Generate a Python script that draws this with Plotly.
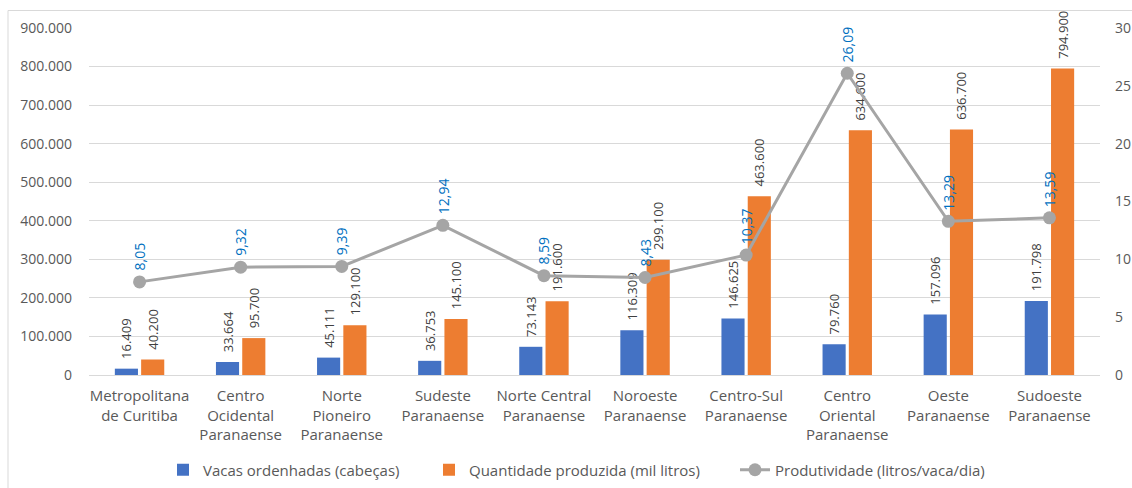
import plotly.graph_objects as go

categories = ["Metropolitana<br>de Curitiba", "Centro<br>Ocidental<br>Paranaense", "Norte<br>Pioneiro<br>Paranaense",
              "Sudeste<br>Paranaense", "Norte Central<br>Paranaense", "Noroeste<br>Paranaense",
              "Centro-Sul<br>Paranaense", "Centro<br>Oriental<br>Paranaense", "Oeste<br>Paranaense",
              "Sudoeste<br>Paranaense"]
vacas = [16409, 33664, 45111, 36753, 73143, 116309, 146625, 79760, 157096, 191798]
quantidade = [40200, 95700, 129100, 145100, 191600, 299100, 463600, 634600, 636700, 794900]
produtividade = [8.05, 9.32, 9.39, 12.94, 8.59, 8.43, 10.37, 26.09, 13.29, 13.59]

left_ticks = [0, 100000, 200000, 300000, 400000, 500000, 600000, 700000, 800000, 900000]
right_ticks = [0, 5, 10, 15, 20, 25, 30]

FONT = "Open Sans"
GRAY_TXT = "#595959"

# plot area in pixels
PL, PR, PT, PB = 89, 1100, 28, 375
PW, PH = PR - PL, PB - PT


def px_x(p):
    return (p - PL) / PW


def px_y(p):
    return (PB - p) / PH


fig = go.Figure()
fig.add_trace(go.Bar(
    x=categories, y=vacas, name="Vacas ordenhadas (cabeças)",
    marker=dict(color="#4472C4", line=dict(width=0)),
    texttemplate="\u00a0\u00a0%{y:,d}", textposition="outside", textangle=-90,
    textfont=dict(family=FONT, size=13, color="#404040"),
    cliponaxis=False, constraintext="none", legend="legend", showlegend=True,
))
fig.add_trace(go.Bar(
    x=categories, y=quantidade, name="Quantidade produzida (mil litros)",
    marker=dict(color="#ED7D31", line=dict(width=0)),
    texttemplate="\u00a0\u00a0%{y:,d}", textposition="outside", textangle=-90,
    textfont=dict(family=FONT, size=13, color="#404040"),
    cliponaxis=False, constraintext="none", legend="legend2", showlegend=True,
))
fig.add_trace(go.Scatter(
    x=categories, y=produtividade, name="Produtividade (litros/vaca/dia)",
    yaxis="y2", mode="lines+markers",
    line=dict(color="#A5A5A5", width=3),
    marker=dict(color="#A5A5A5", size=13),
    cliponaxis=False, legend="legend3", showlegend=True,
))

annotations = []
for c, v in zip(categories, produtividade):
    annotations.append(dict(
        x=c, y=v, xref="x", yref="y2", text=f"{v:.2f}".replace(".", ","),
        textangle=-90, showarrow=False, xanchor="center", yanchor="bottom",
        yshift=9, font=dict(family=FONT, size=14, color="#0070C0"),
    ))

legend_style = dict(orientation="h", xanchor="left", yanchor="middle", y=px_y(470),
                    font=dict(family=FONT, size=15, color=GRAY_TXT), bgcolor="rgba(0,0,0,0)")

fig.update_layout(
    width=1132, height=488,
    showlegend=True,
    margin=dict(l=PL, r=1132 - PR, t=PT, b=488 - PB, autoexpand=False),
    paper_bgcolor="white", plot_bgcolor="white",
    separators=",.",
    barmode="group", bargap=0.48, bargroupgap=0.12,
    font=dict(family=FONT, size=14, color=GRAY_TXT),
    xaxis=dict(range=[-0.5, len(categories) - 0.5], autorange=False,
               showgrid=False, showline=False, ticks="", ticklabelstandoff=10,
               tickfont=dict(family=FONT, size=15, color=GRAY_TXT)),
    yaxis=dict(range=[0, 900000], tickvals=left_ticks, tickformat=",d",
               showgrid=True, gridcolor="#D9D9D9", gridwidth=1,
               zeroline=True, zerolinecolor="#D9D9D9", zerolinewidth=1,
               showline=False, ticks="", ticklabelstandoff=16,
               tickfont=dict(family=FONT, size=14, color=GRAY_TXT)),
    yaxis2=dict(range=[0, 30], tickvals=right_ticks, overlaying="y", side="right",
                showgrid=False, zeroline=False, showline=False, ticks="",
                ticklabelstandoff=14,
                tickfont=dict(family=FONT, size=14, color=GRAY_TXT)),
    legend=dict(legend_style, x=px_x(205 - 42)),
    legend2=dict(legend_style, x=px_x(471 - 42)),
    legend3=dict(legend_style, x=px_x(773 - 38)),
    annotations=annotations,
    shapes=[dict(type="rect", xref="paper", yref="paper",
                 x0=px_x(8), x1=px_x(1145), y0=px_y(500), y1=px_y(10.5),
                 line=dict(color="#D9D9D9", width=1), fillcolor="rgba(0,0,0,0)", layer="below")],
)

fig.write_html("out.html")
